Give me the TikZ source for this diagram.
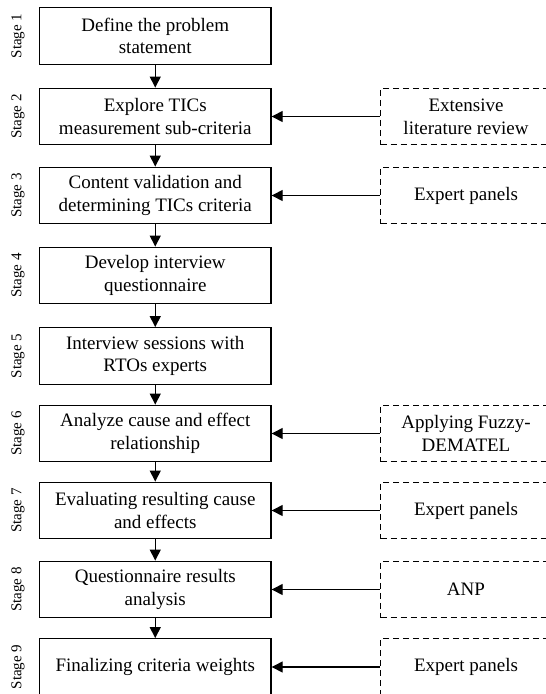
\documentclass[tikz,border=0pt]{standalone}
\usepackage{fontspec}
\setmainfont{Liberation Serif}
\usetikzlibrary{arrows.meta}
\begin{document}
\begin{tikzpicture}[x=1pt,y=-1pt,
 stagebox/.style={draw, line width=1.4pt, minimum width=231.5pt, minimum height=56.5pt, align=center, inner sep=0pt, font=\fontsize{19}{22.8}\selectfont},
 srcbox/.style={draw, dash pattern=on 6pt off 4pt, line width=1.2pt, minimum width=171pt, minimum height=56.5pt, align=center, inner sep=0pt, font=\fontsize{19}{22.8}\selectfont},
 lbl/.style={rotate=90, font=\fontsize{15}{17}\selectfont, inner sep=0pt},
 arr/.style={line width=1.4pt, -{Triangle[length=11pt,width=11pt]}}]
\useasboundingbox (0,0) rectangle (546,694);
% main stages
\node[stagebox] (s1) at (155.25,36)    {Define the problem\\statement};
\node[stagebox] (s2) at (155.25,116.5) {Explore TICs\\measurement sub-criteria};
\node[stagebox] (s3) at (155.25,195.5) {Content validation and\\determining TICs criteria};
\node[stagebox] (s4) at (155.25,275.5) {Develop interview\\questionnaire};
\node[stagebox] (s5) at (155.25,356)   {Interview sessions with\\RTOs experts};
\node[stagebox] (s6) at (155.25,433.5) {Analyze cause and effect\\relationship};
\node[stagebox] (s7) at (155.25,510.5) {Evaluating resulting cause\\and effects};
\node[stagebox] (s8) at (155.25,589.5) {Questionnaire results\\analysis};
\node[stagebox] (s9) at (155.25,667)   {Finalizing criteria weights};
% stage labels
\node[lbl] (l1) at (18,36)    {Stage 1};
\node[lbl] (l2) at (18,116.5) {Stage 2};
\node[lbl] (l3) at (18,195.5) {Stage 3};
\node[lbl] (l4) at (18,275.5) {Stage 4};
\node[lbl] (l5) at (18,356)   {Stage 5};
\node[lbl] (l6) at (18,433.5) {Stage 6};
\node[lbl] (l7) at (18,510.5) {Stage 7};
\node[lbl] (l8) at (18,589.5) {Stage 8};
\node[lbl] (l9) at (18,667)   {Stage 9};
% side inputs
\node[srcbox] (d2) at (466,116.5) {Extensive\\literature review};
\node[srcbox] (d3) at (466,195.5) {Expert panels};
\node[srcbox] (d6) at (466,433.5) {Applying Fuzzy-\\DEMATEL};
\node[srcbox] (d7) at (466,510.5) {Expert panels};
\node[srcbox] (d8) at (466,589.5) {ANP};
\node[srcbox] (d9) at (466,667)   {Expert panels};
% vertical arrows
\draw[arr] (s1) -- (s2);
\draw[arr] (s2) -- (s3);
\draw[arr] (s3) -- (s4);
\draw[arr] (s4) -- (s5);
\draw[arr] (s5) -- (s6);
\draw[arr] (s6) -- (s7);
\draw[arr] (s7) -- (s8);
\draw[arr] (s8) -- (s9);
% horizontal arrows
\draw[arr] (d2) -- (s2);
\draw[arr] (d3) -- (s3);
\draw[arr] (d6) -- (s6);
\draw[arr] (d7) -- (s7);
\draw[arr] (d8) -- (s8);
\draw[arr] (d9) -- (s9);
\end{tikzpicture}
\end{document}
